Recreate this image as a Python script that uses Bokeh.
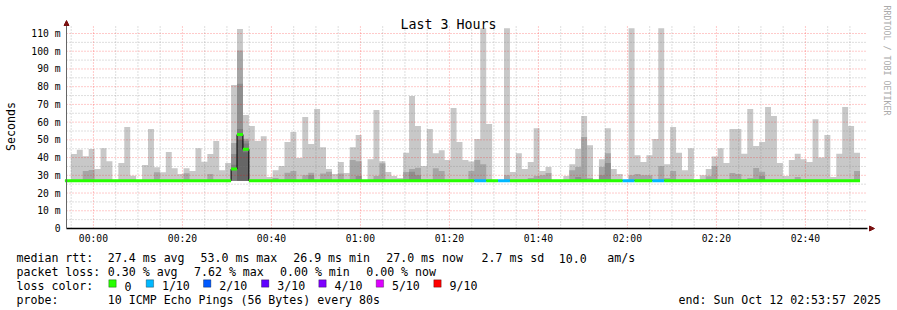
import math
from bokeh.plotting import figure
from bokeh.models import FixedTicker, Range1d, Label, BoxAnnotation, Arrow, NormalHead
from bokeh.embed import file_html
from bokeh.resources import INLINE

# ---------------- data ----------------
# x axis in minutes after 00:00; the graph spans 23:53:57 .. 02:53:57
view_start_min = -6.05
view_end_min = 173.95
first_bar_start_min = -6.4          # 80 s RRD steps, first (partial) step
bar_step_min = 80.0 / 60.0
y_top = 115.08                      # top of the graph area (ms)

x_tick_minutes = [0, 20, 40, 60, 80, 100, 120, 140, 160]
x_tick_labels = ["00:00", "00:20", "00:40", "01:00", "01:20", "01:40", "02:00", "02:20", "02:40"]
x_minor_minutes = [-5, 5, 10, 15, 25, 30, 35, 45, 50, 55, 65, 70, 75, 85, 90, 95,
                   105, 110, 115, 125, 130, 135, 145, 150, 155, 165, 170]
y_tick_values = [0, 10, 20, 30, 40, 50, 60, 70, 80, 90, 100, 110]
y_tick_labels = ["0", "10 m", "20 m", "30 m", "40 m", "50 m", "60 m", "70 m", "80 m", "90 m", "100 m", "110 m"]
y_minor_values = [5, 15, 25, 35, 45, 55, 65, 75, 85, 95, 105]

min_rtt = 26.9   # ms, lower edge of the smoke

# top of the smoke (max ping) per 80 s step, ms
smoke_max = [
    27.0,
    42.0, 44.4, 40.8, 44.8, 33.5, 45.3, 38.0, 27.0, 36.9, 57.2,
    29.7, 27.0, 35.8, 56.1, 34.6, 31.8, 43.1, 34.0, 30.7, 34.0,
    32.5, 45.3, 37.6, 42.0, 49.3, 32.9, 36.9, 81.0, 112.6, 64.0,
    57.8, 49.3, 52.1, 29.0, 32.9, 35.2, 48.8, 54.4, 39.7, 62.9,
    47.6, 67.4, 45.9, 33.5, 30.7, 37.5, 31.3, 45.9, 52.7, 27.0,
    39.1, 66.8, 38.0, 31.9, 29.6, 28.5, 42.8, 74.7, 57.8, 35.2,
    56.1, 42.5, 44.2, 38.6, 68.0, 48.8, 38.6, 37.8, 50.5, 113.0,
    58.9, 27.0, 27.0, 113.0, 31.9, 42.5, 33.5, 37.5, 56.6, 32.4,
    34.7, 27.0, 27.0, 29.6, 36.3, 44.9, 63.5, 47.0, 27.0, 39.1,
    56.6, 33.5, 30.7, 27.0, 113.0, 41.3, 37.5, 41.3, 50.5, 113.0,
    36.3, 57.2, 42.8, 32.9, 45.3, 27.0, 30.1, 33.5, 40.6, 45.3,
    36.9, 56.1, 56.1, 42.2, 67.4, 46.5, 48.8, 68.5, 63.5, 36.9,
    29.6, 38.6, 42.2, 39.1, 37.5, 61.6, 40.1, 52.7, 29.0, 42.2,
    68.5, 57.8, 42.8,
]

# inner (darker) smoke bands: top value, 0 = none
smoke_band1 = [
    0,
    0, 0, 32.4, 33.0, 0, 0, 0, 0, 0, 0,
    0, 0, 0, 0, 31.8, 0, 0, 0, 0, 31.2,
    0, 0, 0, 30.7, 0, 0, 0, 48.2, 100.4, 50.6,
    0, 0, 0, 0, 28.5, 0, 31.5, 32.5, 0, 30.0,
    31.5, 0, 31.0, 32.0, 0, 31.0, 0, 38.6, 38.0, 0,
    0, 29.6, 36.8, 0, 0, 0, 31.9, 33.5, 34.2, 0,
    0, 34.0, 32.4, 0, 0, 0, 0, 32.4, 38.6, 36.3,
    0, 0, 0, 30.1, 0, 0, 0, 28.5, 29.6, 30.1,
    31.3, 0, 0, 0, 32.9, 34.7, 51.6, 28.5, 0, 34.7,
    42.5, 0, 0, 0, 30.1, 30.7, 30.1, 30.1, 0, 35.2,
    28.5, 32.4, 0, 0, 0, 0, 0, 29.5, 35.2, 0,
    0, 31.3, 30.7, 0, 28.5, 34.1, 32.0, 0, 0, 0,
    0, 0, 29.0, 0, 0, 0, 0, 0, 0, 0,
    0, 0, 32.4,
]
smoke_band2 = {27: 42.0, 28: 81.6, 29: 49.5, 40: 30.0, 48: 29.6, 57: 32.0, 58: 30.0,
               85: 29.0, 86: 28.0, 89: 30.1, 90: 36.9, 116: 29.6}
smoke_band3 = {27: 36.0, 28: 56.2, 29: 48.0}
smoke_band4 = {28: 50.0, 29: 43.0}

# median rtt per step, ms
median_rtt = [
    27.0,
    27.0, 27.0, 27.0, 27.0, 27.0, 27.0, 27.0, 27.0, 27.0, 27.0,
    27.0, 27.0, 27.0, 27.0, 27.0, 27.0, 27.0, 27.0, 27.0, 27.0,
    27.0, 27.0, 27.0, 27.0, 27.0, 27.0, 27.0, 33.5, 53.0, 44.7,
    27.0, 27.0, 27.0, 27.0, 27.0, 27.0, 27.0, 27.0, 27.0, 27.0,
    27.0, 27.0, 27.0, 27.0, 27.0, 27.0, 27.0, 27.0, 27.0, 27.0,
    27.0, 27.0, 27.0, 27.0, 27.0, 27.0, 27.0, 27.0, 27.0, 27.0,
    27.0, 27.0, 27.0, 27.0, 27.0, 27.0, 27.0, 27.0, 27.0, 27.0,
    27.0, 27.0, 27.0, 27.0, 27.0, 27.0, 27.0, 27.0, 27.0, 27.0,
    27.0, 27.0, 27.0, 27.0, 27.0, 27.0, 27.0, 27.0, 27.0, 27.0,
    27.0, 27.0, 27.0, 27.0, 27.0, 27.0, 27.0, 27.0, 27.0, 27.0,
    27.0, 27.0, 27.0, 27.0, 27.0, 27.0, 27.0, 27.0, 27.0, 27.0,
    27.0, 27.0, 27.0, 27.0, 27.0, 27.0, 27.0, 27.0, 27.0, 27.0,
    27.0, 27.0, 27.0, 27.0, 27.0, 27.0, 27.0, 27.0, 27.0, 27.0,
    27.0, 27.0, 27.0,
]

# lost pings (of 10) per step
lost_pings = [
    0,
    0, 0, 0, 0, 0, 0, 0, 0, 0, 0,
    0, 0, 0, 0, 0, 0, 0, 0, 0, 0,
    0, 0, 0, 0, 0, 0, 0, 0, 0, 0,
    0, 0, 0, 0, 0, 0, 0, 0, 0, 0,
    0, 0, 0, 0, 0, 0, 0, 0, 0, 0,
    0, 0, 0, 0, 0, 0, 0, 0, 0, 0,
    0, 0, 0, 0, 0, 0, 0, 0, 1, 1,
    0, 0, 1, 1, 0, 0, 0, 0, 0, 0,
    0, 0, 0, 0, 0, 0, 0, 0, 0, 0,
    0, 0, 0, 1, 1, 0, 0, 0, 1, 1,
    0, 0, 0, 0, 0, 0, 0, 0, 0, 0,
    0, 0, 0, 0, 0, 0, 0, 0, 0, 0,
    0, 0, 0, 0, 0, 0, 0, 0, 0, 0,
    0, 0, 0,
]

loss_levels = [0, 1, 2, 3, 4, 5, 9]
loss_labels = ["0", "1/10", "2/10", "3/10", "4/10", "5/10", "9/10"]
loss_colors = ["#26ff00", "#00b8ff", "#0059ff", "#5e00ff", "#7e00ff", "#dd00ff", "#ff0000"]

median_stats = [27.4, 53.0, 26.9, 27.0]      # avg, max, min, now (ms)
median_sd = 2.7
median_amps = 10.0
loss_stats = [0.30, 7.62, 0.00, 0.00]        # avg, max, min, now (%)
probe_text = "10 ICMP Echo Pings (56 Bytes) every 80s"
end_text = "end: Sun Oct 12 02:53:57 2025"
title_text = "Last 3 Hours"
watermark_text = "RRDTOOL / TOBI OETIKER"

# ---------------- figure ----------------
FONT = "DejaVu Sans Mono"
W, H = 897, 310
GRAPH_LEFT_PX, GRAPH_BOTTOM_PX = 66, 228      # where the axes cross
PX_PER_MIN = 4.45
PX_PER_MS = 204.0 / y_top

x0_data = view_start_min - GRAPH_LEFT_PX / PX_PER_MIN
x1_data = x0_data + W / PX_PER_MIN
y1_data = GRAPH_BOTTOM_PX / PX_PER_MS
y0_data = -(H - GRAPH_BOTTOM_PX) / PX_PER_MS

p = figure(width=W, height=H, output_backend="svg", toolbar_location=None,
           x_range=Range1d(x0_data, x1_data), y_range=Range1d(y0_data, y1_data),
           min_border=0, min_border_left=0, min_border_right=0,
           min_border_top=0, min_border_bottom=0)
p.background_fill_color = "white"
p.border_fill_color = "white"
p.outline_line_color = None
p.grid.visible = False

n = len(smoke_max)
edges = [first_bar_start_min + i * bar_step_min for i in range(n + 1)]


def band_tops(band):
    if isinstance(band, dict):
        return [band.get(i - 1, 0) for i in range(n)]
    return list(band)


layers = [
    (smoke_max, "#c8c8c8"),
    (smoke_band1, "#a6a6a6"),
    (smoke_band2, "#8e8e8e"),
    (smoke_band3, "#7c7c7c"),
    (smoke_band4, "#666666"),
]
for band, col in layers:
    tops = [max(t, min_rtt) for t in band_tops(band)]
    p.varea_step(x=edges, y1=[min_rtt] * (n + 1), y2=tops + [tops[-1]],
                 step_mode="after", fill_color=col)

# grid lines (rrdtool paints them over the graph)
GRID_DASH = "1 2"
p.segment(x0=x_minor_minutes, x1=x_minor_minutes, y0=[0] * len(x_minor_minutes),
          y1=[y_top] * len(x_minor_minutes), line_color="#808080", line_alpha=0.5,
          line_dash=GRID_DASH, line_width=1)
p.segment(x0=[view_start_min] * len(y_minor_values), x1=[view_end_min] * len(y_minor_values),
          y0=y_minor_values, y1=y_minor_values, line_color="#808080", line_alpha=0.5,
          line_dash=GRID_DASH, line_width=1)
p.segment(x0=x_tick_minutes, x1=x_tick_minutes, y0=[0] * len(x_tick_minutes),
          y1=[y_top] * len(x_tick_minutes), line_color="#ff0000", line_alpha=0.42,
          line_dash=GRID_DASH, line_width=1)
p.segment(x0=[view_start_min] * 11, x1=[view_end_min] * 11,
          y0=y_tick_values[1:], y1=y_tick_values[1:], line_color="#ff0000", line_alpha=0.42,
          line_dash=GRID_DASH, line_width=1)

# median: thin black step line, then thick loss-coloured segments
p.step(x=edges, y=median_rtt + [median_rtt[-1]], mode="after", line_color="black", line_width=1)


def loss_color(lost):
    col = loss_colors[0]
    for lev, c in zip(loss_levels, loss_colors):
        if lost >= lev:
            col = c
    return col


seg_x0, seg_x1, seg_y, seg_c = [], [], [], []
for i in range(n):
    c = loss_color(lost_pings[i])
    if seg_c and seg_c[-1] == c and seg_y[-1] == median_rtt[i] and seg_x1[-1] == edges[i]:
        seg_x1[-1] = edges[i + 1]
    else:
        seg_x0.append(edges[i]); seg_x1.append(edges[i + 1]); seg_y.append(median_rtt[i]); seg_c.append(c)
p.segment(x0=seg_x0, x1=seg_x1, y0=seg_y, y1=seg_y, line_color=seg_c, line_width=3)

# axes, pinned where rrdtool draws them
p.xaxis.fixed_location = 0
p.yaxis.fixed_location = view_start_min
p.xaxis.bounds = (view_start_min, view_end_min)
p.yaxis.bounds = (0, y_top)
p.xaxis.ticker = FixedTicker(ticks=x_tick_minutes)
p.xaxis.major_label_overrides = {t: l for t, l in zip(x_tick_minutes, x_tick_labels)}
p.yaxis.ticker = FixedTicker(ticks=y_tick_values)
p.yaxis.major_label_overrides = {t: l for t, l in zip(y_tick_values, y_tick_labels)}
for ax in (p.xaxis[0], p.yaxis[0]):
    ax.major_tick_line_color = None
    ax.minor_tick_line_color = None
    ax.major_tick_out = 0
    ax.major_tick_in = 0
    ax.major_label_text_font = FONT
    ax.major_label_text_font_size = "9.7px"
    ax.major_label_text_color = "black"
p.xaxis.axis_line_color = "black"
p.xaxis.axis_line_width = 1.5
p.xaxis.major_label_standoff = 4
p.yaxis.axis_line_color = "#666666"
p.yaxis.major_label_standoff = 6
p.yaxis.axis_label = "Seconds"
p.yaxis.axis_label_text_font = FONT
p.yaxis.axis_label_text_font_size = "11.6px"
p.yaxis.axis_label_text_font_style = "normal"
p.yaxis.axis_label_text_color = "black"
p.yaxis.axis_label_standoff = 10

# axis arrows
p.add_layout(Arrow(end=NormalHead(size=5, fill_color="#7a1010", line_color="#7a1010"),
                   x_start=view_start_min, y_start=y_top - 2, x_end=view_start_min,
                   y_end=y_top + 4 / PX_PER_MS, line_alpha=0))
p.add_layout(Arrow(end=NormalHead(size=5, fill_color="#7a1010", line_color="#7a1010"),
                   x_start=view_end_min, y_start=0, x_end=view_end_min + 7 / PX_PER_MIN,
                   y_end=0, line_alpha=0))


def txt(cx, cy, text, size="11.6px", align="left", color="black", angle=0.0, baseline="alphabetic"):
    p.add_layout(Label(x=cx, y=H - cy, x_units="screen", y_units="screen",
                       text=text, text_font=FONT, text_font_size=size, text_color=color,
                       text_align=align, text_baseline=baseline, angle=angle))


txt(448, 23.5, title_text, size="13.3px", align="center")
txt(886.5, 5, watermark_text, size="8.3px", color="#aaaaaa",
    angle=-math.pi / 2, baseline="middle")

L1, L2, L3, L4 = 257.7, 271.7, 285.7, 299.7
txt(16, L1, "median rtt:")
for x, v, lab in zip([107.3, 200, 292.7, 385.7], median_stats, ["avg", "max", "min", "now"]):
    txt(x, L1, f"{v:.1f} ms {lab}")
txt(481, L1, f"{median_sd:.1f} ms sd")
txt(558.3, L1, f"{median_amps:.1f}")
txt(606.7, L1, "am/s")

txt(16, L2, "packet loss:")
for x, v, lab in zip([107.3, 193.5, 279.5, 365.7], loss_stats, ["avg", "max", "min", "now"]):
    txt(x, L2, f"{v:.2f} % {lab}")

txt(16, L3, "loss color:")
box_x = [108.3, 145.7, 203.0, 261.0, 318.3, 375.7, 433.3]
for bx, lab, col in zip(box_x, loss_labels, loss_colors):
    p.add_layout(BoxAnnotation(left=bx, right=bx + 7.4, top=H - 279.3, bottom=H - 286.7,
                               left_units="screen", right_units="screen",
                               top_units="screen", bottom_units="screen",
                               fill_color=col, fill_alpha=1, line_color="black", line_width=1,
                               level="annotation"))
    txt(bx + 15.7, L3, lab)

txt(16, L4, "probe:")
txt(107.3, L4, probe_text)
txt(678, L4, end_text)

open("out.html", "w").write(file_html(p, INLINE))
